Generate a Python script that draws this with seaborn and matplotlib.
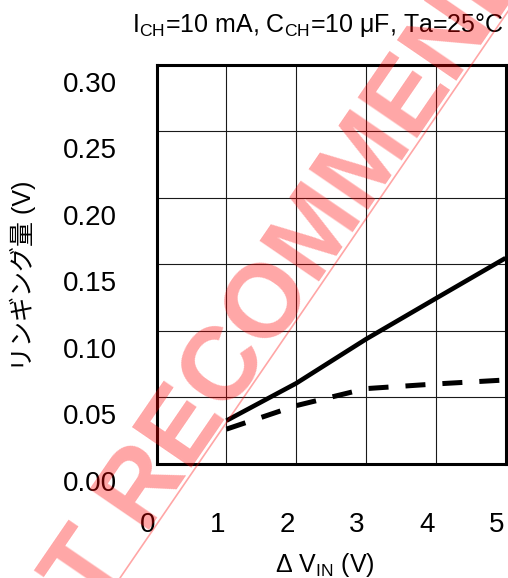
import numpy as np
import matplotlib
matplotlib.use("Agg")
import matplotlib.pyplot as plt
import matplotlib.transforms as mtransforms
from matplotlib.lines import Line2D
import seaborn as sns

# Ringing amplitude vs input step
delta_vin = [1, 2, 3, 4, 5]
ringing_solid = [0.0324, 0.0605, 0.0937, 0.1243, 0.1547]
ringing_dashed = [0.0260, 0.0437, 0.0565, 0.0600, 0.0630]

x_ticks = [0, 1, 2, 3, 4, 5]
x_tick_labels = ["0", "1", "2", "3", "4", "5"]
y_ticks = [0.00, 0.05, 0.10, 0.15, 0.20, 0.25, 0.30]
y_tick_labels = ["0.00", "0.05", "0.10", "0.15", "0.20", "0.25", "0.30"]

title_text = r"I$_{\mathregular{CH}}$=10 mA, C$_{\mathregular{CH}}$=10 μF, Ta=25°C"
x_label = r"Δ V$_{\mathregular{IN}}$ (V)"
y_label = "リンギング量 (V)"
stamp_text = "NOT RECOMMENDED"

sns.set_theme(style="white")
plt.rcParams["font.family"] = ["Liberation Sans", "Noto Sans CJK JP", "DejaVu Sans"]
plt.rcParams["mathtext.fontset"] = "custom"
plt.rcParams["mathtext.rm"] = "Liberation Sans"
plt.rcParams["mathtext.it"] = "Liberation Sans:italic"
plt.rcParams["mathtext.bf"] = "Liberation Sans:bold"

W, H, DPI = 508, 578, 100
fig = plt.figure(figsize=(W / DPI, H / DPI), dpi=DPI)
ax_l, ax_r, ax_t, ax_b = 156.7, 505.5, 65.0, 463.7
ax = fig.add_axes([ax_l / W, 1 - ax_b / H, (ax_r - ax_l) / W, (ax_b - ax_t) / H])

sns.lineplot(x=delta_vin, y=ringing_solid, ax=ax, color="black", lw=3.3,
             solid_capstyle="butt", zorder=3)
sns.lineplot(x=delta_vin, y=ringing_dashed, ax=ax, color="black", lw=3.6,
             linestyle=(0, (4, 3.4)), dash_capstyle="butt", zorder=3)

ax.set_xlim(0, 5)
ax.set_ylim(0, 0.30)
ax.set_xticks(x_ticks)
ax.set_yticks(y_ticks)
ax.tick_params(length=0, labelbottom=False, labelleft=False)
ax.grid(True, color="#1a1a1a", lw=0.8)
ax.set_axisbelow(True)
for s in ax.spines.values():
    s.set_color("black")
    s.set_linewidth(2.2)

# tick labels sit a little off their gridlines
x_off = mtransforms.ScaledTranslation(-9 / DPI, -48 / DPI, fig.dpi_scale_trans)
for xv, lab in zip(x_ticks, x_tick_labels):
    ax.text(xv, 0, lab, transform=ax.get_xaxis_transform() + x_off,
            ha="center", va="top", fontsize=20, color="black")
y_off = mtransforms.ScaledTranslation(-40 / DPI, -20 / DPI, fig.dpi_scale_trans)
for yv, lab in zip(y_ticks, y_tick_labels):
    ax.text(0, yv, lab, transform=ax.get_yaxis_transform() + y_off,
            ha="right", va="center", fontsize=20, color="black")

ax.set_xlabel(x_label, fontsize=18, color="black", va="baseline")
ax.xaxis.set_label_coords((324.5 - ax_l) / (ax_r - ax_l), (ax_b - 572) / (ax_b - ax_t))
ax.set_ylabel(y_label, fontsize=18, color="black", va="center")
ax.yaxis.set_label_coords((23 - ax_l) / (ax_r - ax_l), (ax_b - 276) / (ax_b - ax_t))

fig.text(318 / W, 1 - 32 / H, title_text, ha="center", va="baseline",
         fontsize=18, color="black")

# diagonal red stamp with its underline (pixel geometry, y measured from top)
ang = 55.6
rad = np.deg2rad(ang)
line_x0, line_y0 = 120.0, 578.0
line_x1 = line_x0 + line_y0 / np.tan(rad)
px = lambda x, y: (x / DPI, (H - y) / DPI)
(lx0, ly0), (lx1, ly1) = px(line_x0, line_y0), px(line_x1, 0.0)
fig.add_artist(Line2D([lx0, lx1], [ly0, ly1], transform=fig.dpi_scale_trans,
                      color="red", alpha=0.35, lw=1.2, zorder=10))
gap = 3.0
cy = 293.0
cx = line_x0 + (line_y0 - cy) / np.tan(rad)
ax_x, ax_y = cx - gap * np.sin(rad), cy - gap * np.cos(rad)
fig.text(*px(ax_x, ax_y), stamp_text, transform=fig.dpi_scale_trans,
         rotation=ang, rotation_mode="anchor", ha="center", va="baseline",
         fontsize=75, fontweight="bold", color="red", alpha=0.35, zorder=10)

fig.savefig("out.png", dpi=DPI)
